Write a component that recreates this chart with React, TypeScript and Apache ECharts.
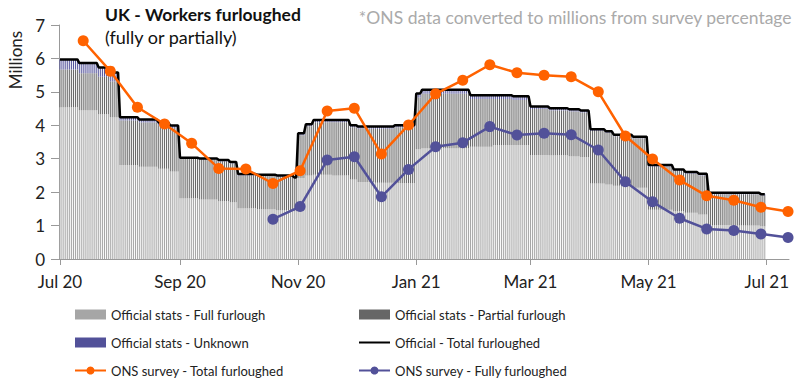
import { useEffect, useRef } from "react";
import * as echarts from "echarts";

// ---- Data -------------------------------------------------------------
const axisStart = "2020-07-01";
const axisEnd = "2021-07-12";
const officialEnd = "2021-06-30";
const monthNames = ["Jan", "Feb", "Mar", "Apr", "May", "Jun", "Jul", "Aug", "Sep", "Oct", "Nov", "Dec"];

// Official (HMRC) stats, millions – readings held until the next reading date
const stepDates = [
  "2020-07-01", "2020-07-11", "2020-07-21", "2020-07-27",
  "2020-08-01", "2020-08-11", "2020-08-21", "2020-08-27",
  "2020-09-01", "2020-09-11", "2020-09-21", "2020-09-27",
  "2020-10-01", "2020-10-11", "2020-10-21", "2020-10-30",
  "2020-11-01", "2020-11-05", "2020-11-09", "2020-11-19", "2020-11-28",
  "2020-12-02", "2020-12-11", "2020-12-21",
  "2021-01-01", "2021-01-04", "2021-01-15", "2021-01-29", "2021-02-10", "2021-02-20",
  "2021-03-01", "2021-03-11", "2021-03-21", "2021-03-27",
  "2021-04-01", "2021-04-09", "2021-04-13", "2021-04-23",
  "2021-05-01", "2021-05-14", "2021-05-20", "2021-05-27",
  "2021-06-01", "2021-06-15", "2021-06-28",
];
const fullFurlough = [
  4.54, 4.45, 4.33, 4.24,
  2.81, 2.76, 2.70, 2.62,
  1.82, 1.78, 1.73, 1.70,
  1.52, 1.49, 1.46, 1.43,
  2.42, 2.50, 2.52, 2.50, 2.38,
  2.30, 2.28, 2.27,
  3.28, 3.31, 3.31, 3.36, 3.41, 3.41,
  3.11, 3.10, 3.07, 3.05,
  2.26, 2.23, 2.19, 2.13,
  1.47, 1.43, 1.38, 1.33,
  1.02, 1.00, 0.98,
];
const partialFurlough = [
  1.13, 1.11, 1.12, 1.07,
  1.33, 1.32, 1.30, 1.30,
  1.17, 1.19, 1.19, 1.16,
  0.98, 0.99, 1.00, 0.98,
  1.28, 1.47, 1.57, 1.59, 1.56,
  1.60, 1.62, 1.67,
  1.55, 1.63, 1.63, 1.43, 1.38, 1.35,
  1.38, 1.34, 1.34, 1.33,
  1.57, 1.54, 1.48, 1.48,
  1.29, 1.20, 1.17, 1.17,
  0.92, 0.94, 0.92,
];
const unknownStatus = [
  0.30, 0.30, 0.28, 0.27,
  0.10, 0.09, 0.08, 0.07,
  0.04, 0.04, 0.04, 0.04,
  0.04, 0.04, 0.04, 0.03,
  0.06, 0.06, 0.07, 0.07, 0.06,
  0.06, 0.06, 0.06,
  0.12, 0.12, 0.12, 0.11, 0.11, 0.11,
  0.07, 0.07, 0.07, 0.06,
  0.05, 0.05, 0.05, 0.05,
  0.05, 0.05, 0.05, 0.05,
  0.04, 0.04, 0.04,
];

// ONS survey (converted to millions)
const onsDates = [
  "2020-07-13", "2020-07-27", "2020-08-10", "2020-08-24", "2020-09-07", "2020-09-21",
  "2020-10-05", "2020-10-19", "2020-11-02", "2020-11-16", "2020-11-30", "2020-12-14",
  "2020-12-28", "2021-01-11", "2021-01-25", "2021-02-08", "2021-02-22", "2021-03-08",
  "2021-03-22", "2021-04-05", "2021-04-19", "2021-05-03", "2021-05-17", "2021-05-31",
  "2021-06-14", "2021-06-28", "2021-07-12",
];
const onsTotal = [
  6.53, 5.62, 4.54, 4.04, 3.46, 2.71,
  2.69, 2.26, 2.64, 4.43, 4.51, 3.14,
  4.01, 4.94, 5.35, 5.81, 5.57, 5.50,
  5.45, 5.00, 3.68, 2.99, 2.36, 1.89,
  1.76, 1.55, 1.42,
];
const onsFull = [
  null, null, null, null, null, null,
  null, 1.19, 1.57, 2.96, 3.06, 1.86,
  2.68, 3.36, 3.48, 3.96, 3.71, 3.76,
  3.72, 3.26, 2.31, 1.71, 1.22, 0.90,
  0.85, 0.75, 0.64,
];

const yTicks = [0, 1, 2, 3, 4, 5, 6, 7];

// ---- Helpers ----------------------------------------------------------
const DAY = 86400000;
const FONT = "Lato";
const toTime = (s: string) => Date.UTC(+s.slice(0, 4), +s.slice(5, 7) - 1, +s.slice(8, 10));
const toStr = (t: number) => new Date(t).toISOString().slice(0, 10);
const isMajor = (v: string) => v.slice(8) === "01" && Number(v.slice(5, 7)) % 2 === 1;
const monthLabel = (v: string) => monthNames[+v.slice(5, 7) - 1] + " " + v.slice(2, 4);

export default function App() {
  const ref = useRef<HTMLDivElement>(null);

  useEffect(() => {
    if (!ref.current) return;
    const chart = echarts.init(ref.current, undefined, { renderer: "svg" });

    const days: string[] = [];
    for (let t = toTime(axisStart); t <= toTime(axisEnd); t += DAY) days.push(toStr(t));
    const endT = toTime(officialEnd);
    const stepT = stepDates.map(toTime);
    const hold = (arr: number[]) =>
      days.map((d) => {
        const t = toTime(d);
        if (t > endT) return null;
        let k = -1;
        for (let i = 0; i < stepT.length; i++) if (stepT[i] <= t) k = i;
        return k < 0 ? null : arr[k];
      });
    const full = hold(fullFurlough);
    const partial = hold(partialFurlough);
    const unknown = hold(unknownStatus);
    const total = days.map((_, i) =>
      full[i] == null ? null : +((full[i] as number) + (partial[i] as number) + (unknown[i] as number)).toFixed(2)
    );
    const onsIdx = new Map(onsDates.map((d, i) => [d, i] as [string, number]));
    const onsOnDays = (arr: (number | null)[]) =>
      days.map((d) => {
        const i = onsIdx.get(d);
        return i === undefined ? null : arr[i];
      });

    const barCommon = {
      type: "bar" as const,
      stack: "official",
      barWidth: 1,
      silent: true,
      emphasis: { disabled: true },
    };

    const legendCommon = {
      orient: "vertical" as const,
      padding: 0,
      itemWidth: 31,
      itemHeight: 10,
      itemGap: 13,
      selectedMode: false,
      textStyle: { fontFamily: FONT, fontSize: 13, color: "#222", lineHeight: 15 },
    };

    chart.setOption({
      animation: false,
      grid: { left: 59, right: 21, top: 25, bottom: 125, containLabel: false },
      xAxis: {
        type: "category",
        data: days,
        boundaryGap: true,
        axisLine: { show: true, lineStyle: { color: "#999", width: 1 } },
        axisTick: {
          show: true,
          alignWithLabel: true,
          interval: (_i: number, v: string) => isMajor(v),
          length: 6,
          lineStyle: { color: "#999" },
        },
        axisLabel: {
          interval: (_i: number, v: string) => isMajor(v),
          formatter: (v: string) => monthLabel(v),
          margin: 14,
          fontFamily: FONT,
          fontSize: 17,
          color: "#222",
        },
        splitLine: { show: false },
      },
      yAxis: {
        type: "value",
        min: yTicks[0],
        max: yTicks[yTicks.length - 1],
        interval: 1,
        axisLine: { show: true, lineStyle: { color: "#999", width: 1 } },
        axisTick: { show: true, length: 8, lineStyle: { color: "#999" } },
        axisLabel: { margin: 14, fontFamily: FONT, fontSize: 17, color: "#222" },
        splitLine: { show: false },
      },
      legend: [
        {
          ...legendCommon,
          left: 74,
          top: 307,
          data: [
            { name: "Official stats - Full furlough", icon: "rect" },
            { name: "Official stats - Unknown", icon: "rect" },
            { name: "ONS survey - Total furloughed", itemStyle: { opacity: 1 } },
          ],
        },
        {
          ...legendCommon,
          left: 358,
          top: 307,
          data: [
            { name: "Official stats - Partial furlough", icon: "rect" },
            { name: "Official - Total furloughed", itemStyle: { opacity: 0 } },
            "ONS survey - Fully furloughed",
          ],
        },
      ],
      graphic: [
        {
          type: "text",
          left: 105,
          top: 5,
          style: { text: "UK - Workers furloughed", fontFamily: FONT, fontSize: 17.5, fontWeight: "bold", fill: "#111" },
        },
        {
          type: "text",
          left: 105,
          top: 28,
          style: { text: "(fully or partially)", fontFamily: FONT, fontSize: 18, fill: "#111" },
        },
        {
          type: "text",
          right: 18,
          top: 8,
          style: {
            text: "*ONS data converted to millions from survey percentage",
            fontFamily: FONT,
            fontSize: 17.5,
            fill: "#aaa",
          },
        },
        {
          type: "text",
          x: 15,
          y: 60,
          rotation: Math.PI / 2,
          style: {
            text: "Millions",
            fontFamily: FONT,
            fontSize: 17,
            fill: "#222",
            textAlign: "center",
            textVerticalAlign: "middle",
          },
        },
      ],
      series: [
        { ...barCommon, name: "Official stats - Full furlough", data: full, itemStyle: { color: "#a6a6a6" } },
        { ...barCommon, name: "Official stats - Partial furlough", data: partial, itemStyle: { color: "#666666" } },
        { ...barCommon, name: "Official stats - Unknown", data: unknown, itemStyle: { color: "#525199" } },
        {
          type: "line",
          name: "Official - Total furloughed",
          data: total,
          symbol: "none",
          silent: true,
          lineStyle: { color: "#000", width: 2.5 },
          itemStyle: { color: "#000" },
          z: 3,
        },
        {
          type: "line",
          name: "ONS survey - Fully furloughed",
          data: onsOnDays(onsFull),
          connectNulls: true,
          showAllSymbol: true,
          symbol: "circle",
          symbolSize: 11,
          silent: true,
          lineStyle: { color: "#525199", width: 2.5 },
          itemStyle: { color: "#525199" },
          z: 4,
        },
        {
          type: "line",
          name: "ONS survey - Total furloughed",
          data: onsOnDays(onsTotal),
          connectNulls: true,
          showAllSymbol: true,
          symbol: "circle",
          symbolSize: 11,
          silent: true,
          lineStyle: { color: "#ff6200", width: 2.5 },
          itemStyle: { color: "#ff6200" },
          z: 5,
        },
      ],
    });

    return () => chart.dispose();
  }, []);

  return (
    <div
      ref={ref}
      style={{ position: "absolute", left: 0, top: 0, width: 810, height: 384, background: "#fff" }}
    />
  );
}
